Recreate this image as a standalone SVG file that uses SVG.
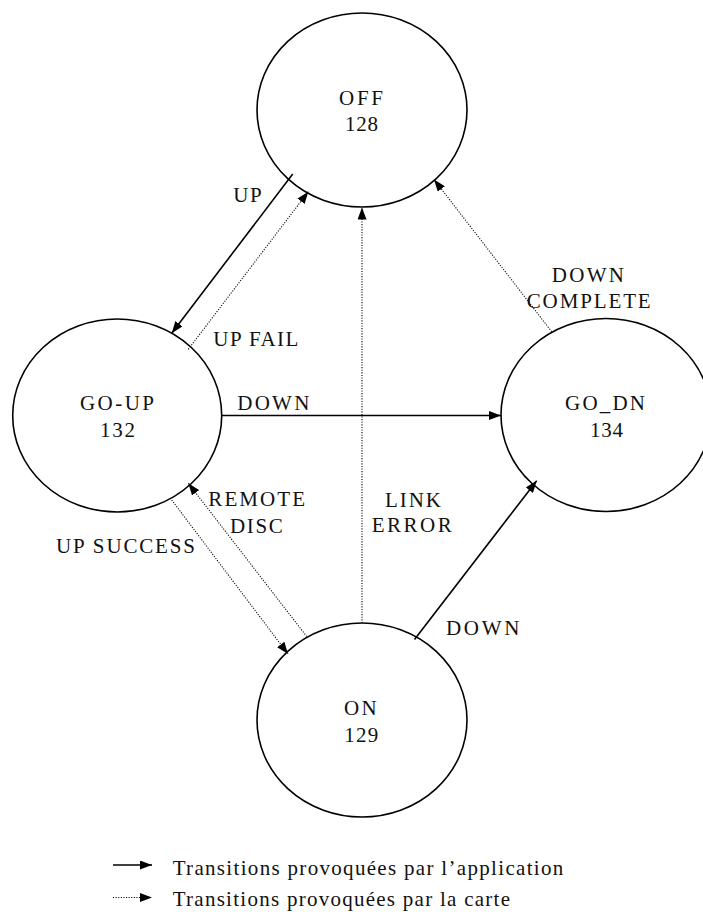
<svg xmlns="http://www.w3.org/2000/svg" width="703" height="912" viewBox="0 0 703 912">
<defs>
<marker id="arr" markerUnits="userSpaceOnUse" markerWidth="13" markerHeight="9" refX="12" refY="4.5" orient="auto">
<path d="M0,0 L12,4.5 L0,9 z" fill="#000"/>
</marker>
<style>
.node{fill:none;stroke:#000;stroke-width:1.6}
text{font-family:"Liberation Serif","Times New Roman",serif;font-size:21px;fill:#111}
.solid{stroke:#000;stroke-width:1.6;fill:none}
.dot{stroke:#000;stroke-width:1.1;stroke-dasharray:1.1 1.5;fill:none}
</style>
</defs>
<rect width="703" height="912" fill="#fff"/>
<g id="connectors">
<line class="solid" x1="292.7" y1="174" x2="171.7" y2="333.3" marker-end="url(#arr)"/>
<line class="dot" x1="188.3" y1="349.3" x2="308.3" y2="191.7" marker-end="url(#arr)"/>
<line class="solid" x1="221.7" y1="415.5" x2="501" y2="415.5" marker-end="url(#arr)"/>
<line class="dot" x1="306.7" y1="636.5" x2="188.3" y2="483.3" marker-end="url(#arr)"/>
<line class="dot" x1="171.7" y1="500" x2="288" y2="654" marker-end="url(#arr)"/>
<line class="dot" x1="362" y1="623" x2="362" y2="207.5" marker-end="url(#arr)"/>
<line class="solid" x1="414.5" y1="639.5" x2="536.7" y2="480.7" marker-end="url(#arr)"/>
<line class="dot" x1="551.7" y1="331.7" x2="434" y2="179.5" marker-end="url(#arr)"/>
<text x="233.3" y="201.7" textLength="28.4" lengthAdjust="spacing">UP</text>
<text x="213.3" y="346" textLength="85" lengthAdjust="spacing">UP FAIL</text>
<text x="237.3" y="410" textLength="72" lengthAdjust="spacing">DOWN</text>
<text x="208.3" y="506" textLength="96.7" lengthAdjust="spacing">REMOTE</text>
<text x="230" y="532.7" textLength="52.7" lengthAdjust="spacing">DISC</text>
<text x="56" y="553.3" textLength="139" lengthAdjust="spacing">UP SUCCESS</text>
<text x="385" y="506.7" textLength="56" lengthAdjust="spacing">LINK</text>
<text x="371.7" y="531.7" textLength="80" lengthAdjust="spacing">ERROR</text>
<text x="446" y="635" textLength="73.3" lengthAdjust="spacing">DOWN</text>
<text x="551.7" y="281.7" textLength="72.3" lengthAdjust="spacing">DOWN</text>
<text x="526.7" y="308.3" textLength="124" lengthAdjust="spacing">COMPLETE</text>
</g>
<g id="off">
<ellipse class="node" cx="362" cy="110" rx="105" ry="97"/>
<text x="339" y="105" textLength="44" lengthAdjust="spacing">OFF</text>
<text x="345" y="130.7" textLength="33" lengthAdjust="spacing">128</text>
</g>
<g id="go-up">
<ellipse class="node" cx="117.2" cy="415.5" rx="104.5" ry="96.5"/>
<text x="80" y="410" textLength="74" lengthAdjust="spacing">GO-UP</text>
<text x="100" y="436.7" textLength="35" lengthAdjust="spacing">132</text>
</g>
<g id="go-dn">
<ellipse class="node" cx="606" cy="415" rx="105" ry="96.5"/>
<text x="565" y="410" textLength="80" lengthAdjust="spacing">GO_DN</text>
<text x="590" y="436.7" textLength="33" lengthAdjust="spacing">134</text>
</g>
<g id="on">
<ellipse class="node" cx="362" cy="720" rx="105" ry="97"/>
<text x="344" y="715" textLength="32.7" lengthAdjust="spacing">ON</text>
<text x="344.3" y="741.7" textLength="34" lengthAdjust="spacing">129</text>
</g>
<g id="legend">
<line class="solid" x1="113" y1="865" x2="152" y2="865" marker-end="url(#arr)"/>
<line class="dot" x1="113" y1="897.5" x2="152" y2="897.5" marker-end="url(#arr)"/>
<text x="172.7" y="875" textLength="390.6" lengthAdjust="spacing">Transitions provoquées par l’application</text>
<text x="172.7" y="906" textLength="337.3" lengthAdjust="spacing">Transitions provoquées par la carte</text>
</g>
</svg>
